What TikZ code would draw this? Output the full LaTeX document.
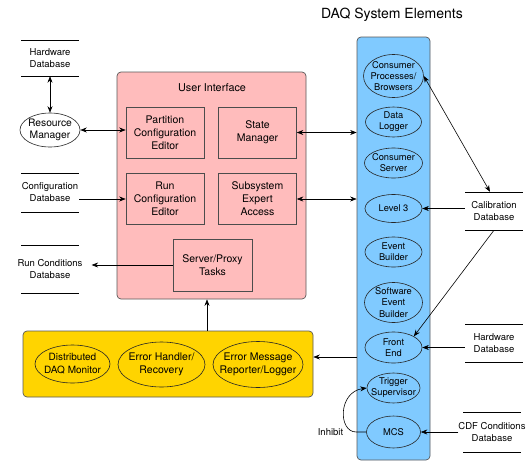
\documentclass[tikz,border=0pt]{standalone}
\usepackage{fontspec}
\setmainfont{TeX Gyre Heros}
\usetikzlibrary{shapes.geometric,arrows.meta,calc}
\definecolor{uipink}{RGB}{255,188,188}
\definecolor{daqblue}{RGB}{128,202,255}
\definecolor{erryellow}{RGB}{255,212,0}
\begin{document}
\begin{tikzpicture}[x=1pt,y=-1pt,
  every node/.style={inner sep=0pt, align=center},
  panel/.style={draw=black!65, line width=0.7pt, rounded corners=4pt},
  uibox/.style={draw=black!70, line width=0.6pt, fill=uipink, minimum width=78pt, minimum height=51pt, font=\fontsize{10.5}{13}\selectfont},
  ell/.style={ellipse, draw=black!85, line width=0.6pt},
  btxt/.style={font=\fontsize{9.3}{11.2}\selectfont},
  ytxt/.style={font=\fontsize{10.5}{13}\selectfont},
  dbase/.style={minimum width=58pt, minimum height=2*#1, font=\fontsize{9.5}{12}\selectfont,
    append after command={
      ([shift={(-29pt,#1)}]\tikzlastnode.center) edge[line width=0.6pt] ([shift={(29pt,#1)}]\tikzlastnode.center)
      ([shift={(-29pt,-#1)}]\tikzlastnode.center) edge[line width=0.6pt] ([shift={(29pt,-#1)}]\tikzlastnode.center)}},
  dbase/.default=19pt,
  arr/.style={-{Stealth[length=6.5pt,width=5pt]}, line width=0.6pt},
  darr/.style={{Stealth[length=6.5pt,width=5pt]}-{Stealth[length=6.5pt,width=5pt]}, line width=0.6pt},
]
\useasboundingbox[fill=white] (0,0) rectangle (528,464);

% title
\node[font=\fontsize{14}{16}\selectfont, anchor=east] (title) at (463,15) {DAQ System Elements};

% user interface panel
\node[panel, fill=uipink, minimum width=189pt, minimum height=227pt] (ui) at (211.5,185.5) {};
\node[font=\fontsize{10.8}{13}\selectfont] (uit) at (212,88) {User Interface};
\node[uibox] (pce) at (165,132.5) {Partition\\Configuration\\Editor};
\node[uibox] (sm) at (257.5,132.5) {State\\Manager};
\node[uibox] (rce) at (165,199) {Run\\Configuration\\Editor};
\node[uibox] (sea) at (257.5,199) {Subsystem\\Expert\\Access};
\node[uibox, minimum width=79pt, minimum height=52pt] (spt) at (212.5,265) {Server/Proxy\\Tasks};

% DAQ panel
\node[panel, fill=daqblue, minimum width=73pt, minimum height=423pt] (daq) at (393.5,248.5) {};
\node[ell, minimum width=60pt, minimum height=43pt] (cp) at (393.5,76) {};
\node[btxt] (cpt) at (cp) {Consumer\\Processes/\\Browsers};
\node[ell, minimum width=56pt, minimum height=30pt] (dl) at (393.5,122) {};
\node[btxt] (dlt) at (dl) {Data\\Logger};
\node[ell, minimum width=58pt, minimum height=30pt] (cs) at (393.5,163) {};
\node[btxt] (cst) at (cs) {Consumer\\Server};
\node[ell, minimum width=57pt, minimum height=28pt] (l3) at (393.5,208.5) {};
\node[btxt] (l3t) at (l3) {Level 3};
\node[ell, minimum width=57pt, minimum height=30pt] (eb) at (393.5,252) {};
\node[btxt] (ebt) at (eb) {Event\\Builder};
\node[ell, minimum width=58pt, minimum height=40pt] (seb) at (393.5,302.5) {};
\node[btxt] (sebt) at (seb) {Software\\Event\\Builder};
\node[ell, minimum width=57pt, minimum height=31pt] (fe) at (393.5,347.5) {};
\node[btxt] (fet) at (fe) {Front\\End};
\node[ell, minimum width=53pt, minimum height=30pt] (ts) at (393.5,388) {};
\node[btxt] (tst) at (ts) {Trigger\\Supervisor};
\node[ell, minimum width=54pt, minimum height=32pt] (mcs) at (393.5,432) {};
\node[btxt] (mcst) at (mcs) {MCS};

% error panel
\node[panel, fill=erryellow, minimum width=290pt, minimum height=66pt] (yel) at (168,364) {};
\node[ell, minimum width=75pt, minimum height=38pt] (dm) at (72.5,364) {};
\node[ytxt, font=\fontsize{10}{13}\selectfont] (dmt) at (dm) {Distributed\\DAQ Monitor};
\node[ell, minimum width=87pt, minimum height=45pt] (eh) at (161.5,364.5) {};
\node[ytxt] (eht) at (eh) {Error Handler/\\Recovery};
\node[ell, minimum width=90pt, minimum height=46pt] (em) at (258,364.5) {};
\node[ytxt] (emt) at (em) {Error Message\\Reporter/Logger};

% left side
\node[dbase=18pt] (hwl) at (50,58) {Hardware\\Database};
\node[ell, minimum width=60pt, minimum height=34pt] (rm) at (50,130) {};
\node[font=\fontsize{10.3}{12}\selectfont] (rmt) at (rm) {Resource\\Manager};
\node[dbase=19.5pt] (cfg) at (50,192.5) {Configuration\\Database};
\node[dbase=24pt] (rc) at (50,269) {Run Conditions\\Database};

% right side
\node[dbase] (cal) at (494,211) {Calibration\\Database};
\node[dbase] (hwr) at (494,343.5) {Hardware\\Database};
\node[dbase=20pt] (cdf) at (492,432) {CDF Conditions\\Database};

% connectors
\coordinate (uiarrow) at (207,300);
\coordinate (erra) at (330,357);
\draw[darr] (hwl.south) -- (rm.north);
\draw[darr] (rm.east) -- (rm.east -| pce.west);
\draw[arr] (cfg.east |- rce.west) -- (rce.west);
\draw[arr] (spt.west) -- ([xshift=9pt]rc.east |- spt.west);
\draw[darr] (sm.east) -- (sm.east -| daq.west);
\draw[darr] (sea.east) -- (sea.east -| daq.west);
\draw[arr] (yel.north -| uiarrow) -- (ui.south -| uiarrow);
\draw[arr] (daq.west |- erra) -- (yel.east |- erra);
\draw[darr] (cp.east) -- ([xshift=-4pt]cal.north);
\draw[arr] (cal.south) -- (fe.north east);
\draw[arr] (l3.east -| cal.west) -- (l3.east);
\draw[arr] (hwr.west |- fe.east) -- (fe.east);
\draw[arr] (cdf.west |- mcs.east) -- (mcs.east);
\draw[arr] (mcs.west) -- ++(-10,0) .. controls (338,432) and (338,392) .. (ts.west);
\node[font=\fontsize{9.5}{11}\selectfont] (inh) at (330.5,432) {Inhibit};
\end{tikzpicture}
\end{document}
